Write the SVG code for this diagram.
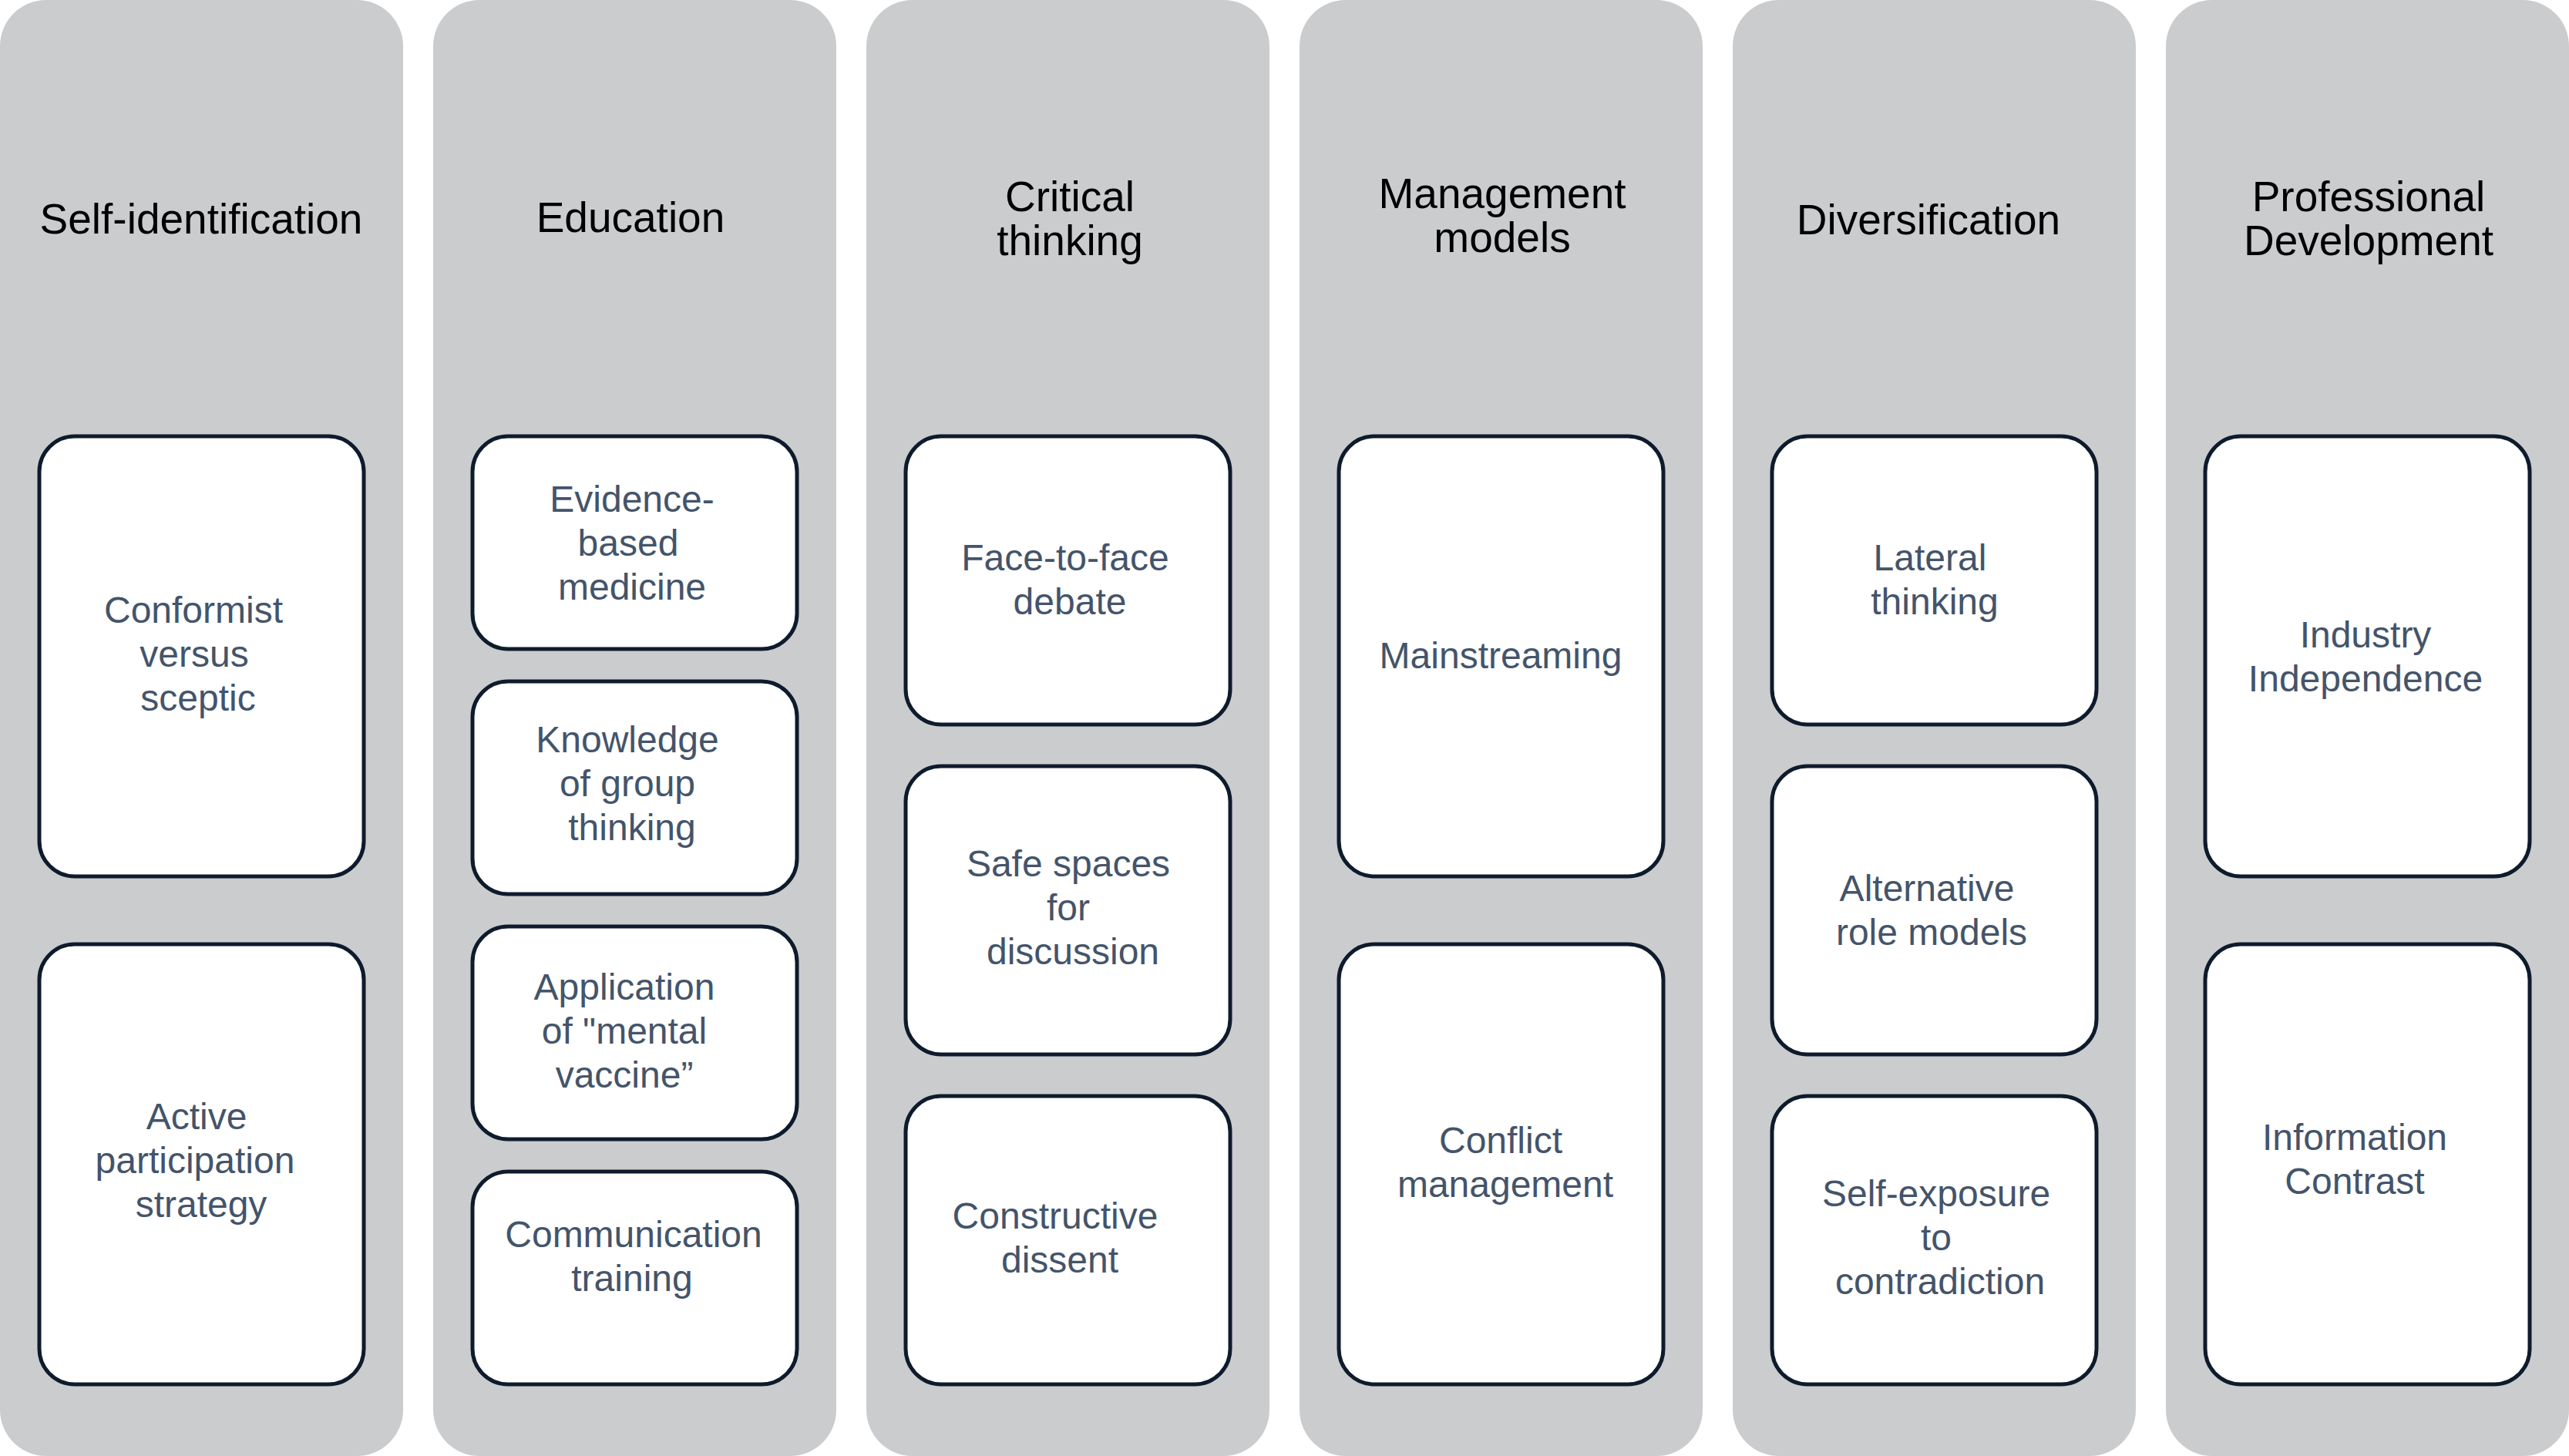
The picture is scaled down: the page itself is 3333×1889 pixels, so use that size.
<svg xmlns="http://www.w3.org/2000/svg" width="3333" height="1889" viewBox="0 0 3333 1889">
<style>
.col{fill:#cbccce;}
.box{fill:#ffffff;stroke:#0e1b2c;stroke-width:5;}
.title{font-family:"Liberation Sans",Arial,sans-serif;font-size:55px;fill:#000000;text-anchor:middle;}
.lbl{font-family:"Liberation Sans",Arial,sans-serif;font-size:48px;fill:#44546a;text-anchor:middle;}
</style>
<rect width="3333" height="1889" fill="#ffffff"/>
<g id="col-self-identification">
<rect class="col" x="0" y="0" width="523" height="1889" rx="60"/>
<text class="title" x="261" y="303">Self-identification</text>
</g>
<g id="col-education">
<rect class="col" x="562" y="0" width="523" height="1889" rx="60"/>
<text class="title" x="818" y="301">Education</text>
</g>
<g id="col-critical-thinking">
<rect class="col" x="1124" y="0" width="523" height="1889" rx="60"/>
<text class="title" x="1388" y="274">Critical</text>
<text class="title" x="1388" y="331">thinking</text>
</g>
<g id="col-management-models">
<rect class="col" x="1686" y="0" width="523" height="1889" rx="60"/>
<text class="title" x="1949" y="270">Management</text>
<text class="title" x="1949" y="327">models</text>
</g>
<g id="col-diversification">
<rect class="col" x="2248" y="0" width="523" height="1889" rx="60"/>
<text class="title" x="2502" y="304">Diversification</text>
</g>
<g id="col-professional-development">
<rect class="col" x="2810" y="0" width="523" height="1889" rx="60"/>
<text class="title" x="3073" y="274">Professional</text>
<text class="title" x="3073" y="331">Development</text>
</g>

<g id="n-conformist">
<rect class="box" x="51" y="566" width="421" height="571" rx="46"/>
<text class="lbl" x="251" y="808">Conformist</text>
<text class="lbl" x="252" y="865">versus</text>
<text class="lbl" x="257" y="922">sceptic</text>
</g>
<g id="n-active">
<rect class="box" x="51" y="1225" width="421" height="571" rx="46"/>
<text class="lbl" x="255" y="1465">Active</text>
<text class="lbl" x="253" y="1522">participation</text>
<text class="lbl" x="261" y="1579">strategy</text>
</g>

<g id="n-evidence">
<rect class="box" x="613" y="566" width="421" height="276" rx="46"/>
<text class="lbl" x="820" y="664">Evidence-</text>
<text class="lbl" x="815" y="721">based</text>
<text class="lbl" x="820" y="778">medicine</text>
</g>
<g id="n-knowledge">
<rect class="box" x="613" y="884" width="421" height="276" rx="46"/>
<text class="lbl" x="814" y="976">Knowledge</text>
<text class="lbl" x="814" y="1033">of group</text>
<text class="lbl" x="820" y="1090">thinking</text>
</g>
<g id="n-application">
<rect class="box" x="613" y="1202" width="421" height="276" rx="46"/>
<text class="lbl" x="810" y="1297">Application</text>
<text class="lbl" x="810" y="1354">of "mental</text>
<text class="lbl" x="810" y="1411">vaccine”</text>
</g>
<g id="n-communication">
<rect class="box" x="613" y="1520" width="421" height="276" rx="46"/>
<text class="lbl" x="822" y="1618">Communication</text>
<text class="lbl" x="820" y="1675">training</text>
</g>

<g id="n-face">
<rect class="box" x="1175" y="566" width="421" height="374" rx="46"/>
<text class="lbl" x="1382" y="740">Face-to-face</text>
<text class="lbl" x="1388" y="797">debate</text>
</g>
<g id="n-safe">
<rect class="box" x="1175" y="994" width="421" height="374" rx="46"/>
<text class="lbl" x="1386" y="1137">Safe spaces</text>
<text class="lbl" x="1386" y="1194">for</text>
<text class="lbl" x="1392" y="1251">discussion</text>
</g>
<g id="n-constructive">
<rect class="box" x="1175" y="1422" width="421" height="374" rx="46"/>
<text class="lbl" x="1369" y="1594">Constructive</text>
<text class="lbl" x="1375" y="1651">dissent</text>
</g>

<g id="n-mainstreaming">
<rect class="box" x="1737" y="566" width="421" height="571" rx="46"/>
<text class="lbl" x="1947" y="867">Mainstreaming</text>
</g>
<g id="n-conflict">
<rect class="box" x="1737" y="1225" width="421" height="571" rx="46"/>
<text class="lbl" x="1947" y="1496">Conflict</text>
<text class="lbl" x="1953" y="1553">management</text>
</g>

<g id="n-lateral">
<rect class="box" x="2299" y="566" width="421" height="374" rx="46"/>
<text class="lbl" x="2504" y="740">Lateral</text>
<text class="lbl" x="2510" y="797">thinking</text>
</g>
<g id="n-alternative">
<rect class="box" x="2299" y="994" width="421" height="374" rx="46"/>
<text class="lbl" x="2500" y="1169">Alternative</text>
<text class="lbl" x="2506" y="1226">role models</text>
</g>
<g id="n-selfexposure">
<rect class="box" x="2299" y="1422" width="421" height="374" rx="46"/>
<text class="lbl" x="2512" y="1565">Self-exposure</text>
<text class="lbl" x="2512" y="1622">to</text>
<text class="lbl" x="2517" y="1679">contradiction</text>
</g>

<g id="n-industry">
<rect class="box" x="2861" y="566" width="421" height="571" rx="46"/>
<text class="lbl" x="3069" y="840">Industry</text>
<text class="lbl" x="3069" y="897">Independence</text>
</g>
<g id="n-information">
<rect class="box" x="2861" y="1225" width="421" height="571" rx="46"/>
<text class="lbl" x="3055" y="1492">Information</text>
<text class="lbl" x="3055" y="1549">Contrast</text>
</g>
<g id="connectors"/>
</svg>
